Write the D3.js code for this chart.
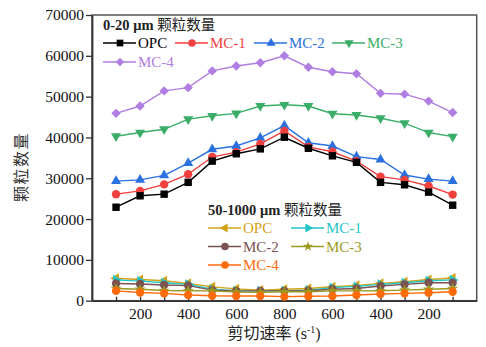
<!DOCTYPE html>
<html>
<head>
<meta charset="utf-8">
<script src="https://cdn.jsdelivr.net/npm/d3@7"></script>
<style>
  body { margin: 0; background: #fff; }
  text { font-family: "Liberation Serif", "Noto Sans CJK SC", serif; }
</style>
</head>
<body>
<div id="vis-container"></div>
<script>
// shear rate goes up to 800 and back down
const shearRate = [100,200,300,400,500,600,700,800,700,600,500,400,300,200,100];

// 0-20 um particle counts
const opcFine = [22900,25700,26100,29000,34200,36000,37200,40050,37350,35500,33900,29000,28400,26600,23400];
const mc1Fine = [26100,26900,28500,31000,35200,36400,38400,41600,37700,36500,34200,30400,29600,28100,26000];
const mc2Fine = [29300,29600,30700,33700,37100,37900,39900,42900,38700,37900,35300,34600,30800,29800,29300];
const mc3Fine = [40300,41200,42000,44500,45300,45900,47700,48000,47700,45800,45500,44700,43500,41200,40200];
const mc4Fine = [45900,47700,51400,52200,56300,57500,58300,60000,57200,56100,55600,50800,50600,48900,46100];

// 50-1000 um particle counts
const opcCoarse = [5500,5200,4900,4250,3400,2900,2600,2800,3000,3400,3750,4250,4650,5200,5550];
const mc1Coarse = [5100,4800,4400,4000,2800,2450,2400,2400,2600,3200,3500,4000,4400,4900,5100];
const mc2Coarse = [4200,4100,3850,3700,2600,2400,2400,2400,2450,2800,3000,3600,4000,4400,4400];
const mc3Coarse = [3000,2800,2500,2450,2400,2100,2050,2200,2200,2400,2400,2450,2600,2800,3000];
const mc4Coarse = [2400,2000,1800,1400,1200,1150,1150,1000,1100,1150,1400,1650,1800,1950,2200];

const yTicks = [0,10000,20000,30000,40000,50000,60000,70000];

const fineSeries = [
  {name:"OPC",  values:opcFine, color:"#000000", shape:"square"},
  {name:"MC-1", values:mc1Fine, color:"#f0413f", shape:"circle"},
  {name:"MC-2", values:mc2Fine, color:"#2a70de", shape:"up"},
  {name:"MC-3", values:mc3Fine, color:"#3aae68", shape:"down"},
  {name:"MC-4", values:mc4Fine, color:"#b07de2", shape:"diamond"}
];
const coarseSeries = [
  {name:"OPC",  values:opcCoarse, color:"#d4a315", shape:"left"},
  {name:"MC-1", values:mc1Coarse, color:"#22c6c9", shape:"right"},
  {name:"MC-2", values:mc2Coarse, color:"#7a5252", shape:"circle"},
  {name:"MC-3", values:mc3Coarse, color:"#9c9a1e", shape:"star"},
  {name:"MC-4", values:mc4Coarse, color:"#ff6a0a", shape:"circle"}
];

let width = 486, height = 347;
let plot = {left:92, right:476.7, top:15, bottom:300.7};

let svg = d3.select("#vis-container")
  .append("svg")
  .attr("width", width)
  .attr("height", height);

//scales
let x = d3.scaleLinear()
  .domain([-1, shearRate.length])
  .range([plot.left, plot.right]);

let y = d3.scaleLinear()
  .domain([0, 70000])
  .range([plot.bottom, plot.top]);

//frame
svg.append("rect")
  .attr("x", plot.left).attr("y", plot.top)
  .attr("width", plot.right - plot.left)
  .attr("height", plot.bottom - plot.top)
  .attr("fill", "none")
  .attr("stroke", "#555")
  .attr("stroke-width", 1.5);

//y axis
let yAxis = d3.axisLeft(y)
  .tickValues(yTicks)
  .tickFormat(d3.format("d"))
  .tickSizeInner(6)
  .tickSizeOuter(0)
  .tickPadding(2);

let yAxisGroup = svg.append("g")
  .attr("transform", `translate(${plot.left},0)`)
  .call(yAxis);
yAxisGroup.selectAll("text").attr("font-size", "15.5px").attr("fill", "#111");

//x axis, ticks inward
let xAxis = d3.axisBottom(x)
  .tickValues(d3.range(shearRate.length))
  .tickFormat(i => shearRate[i] % 200 === 0 ? shearRate[i] : "")
  .tickSizeInner(-4)
  .tickSizeOuter(0)
  .tickPadding(7);

let xAxisGroup = svg.append("g")
  .attr("transform", `translate(0,${plot.bottom})`)
  .call(xAxis);
xAxisGroup.selectAll("text").attr("font-size", "15.5px").attr("fill", "#111");

[yAxisGroup, xAxisGroup].forEach(g => {
  g.select(".domain").attr("stroke", "#333").attr("stroke-width", 1.8);
  g.selectAll(".tick line").attr("stroke", "#333").attr("stroke-width", 1.3);
});

//axis labels
svg.append("text")
  .attr("transform", "translate(27,167) rotate(-90)")
  .attr("text-anchor", "middle")
  .attr("font-size", "16px")
  .attr("letter-spacing", "1.5px")
  .attr("fill", "#333")
  .text("颗粒数量");

let xLabel = svg.append("text")
  .attr("x", 274)
  .attr("y", 339)
  .attr("text-anchor", "middle")
  .attr("font-size", "16px")
  .attr("fill", "#222");
xLabel.append("tspan").text("剪切速率 (s");
xLabel.append("tspan").attr("dy", -6).attr("font-size", "10px").text("-1");
xLabel.append("tspan").attr("dy", 6).text(")");

//marker shapes
function marker(shape, size) {
  if (shape === "square") return {d: d3.symbol(d3.symbolSquare, size)(), rot: 0};
  if (shape === "circle") return {d: d3.symbol(d3.symbolCircle, size)(), rot: 0};
  if (shape === "diamond") return {d: d3.symbol(d3.symbolSquare, size * 0.8)(), rot: 45};
  if (shape === "star") return {d: d3.symbol(d3.symbolStar, size * 0.7)(), rot: 0};
  let rot = {up:0, right:90, down:180, left:270}[shape];
  return {d: d3.symbol(d3.symbolTriangle, size * 0.8)(), rot: rot};
}

let line = d3.line()
  .x((d, i) => x(i))
  .y(d => y(d));

function drawSeries(series, size) {
  series.forEach(s => {
    let g = svg.append("g");
    g.append("path")
      .attr("d", line(s.values))
      .attr("fill", "none")
      .attr("stroke", s.color)
      .attr("stroke-width", 1.4);
    let m = marker(s.shape, size);
    g.selectAll("path.pt")
      .data(s.values)
      .enter()
      .append("path")
      .attr("class", "pt")
      .attr("d", m.d)
      .attr("transform", (d, i) => `translate(${x(i)},${y(d)}) rotate(${m.rot})`)
      .attr("fill", s.color);
  });
}

drawSeries(coarseSeries, 55);
drawSeries(fineSeries.slice().reverse(), 55);

//legends
function legend(title, sub, series, x0, y0, cols, rowH) {
  let g = svg.append("g");
  let t = g.append("text")
    .attr("x", x0).attr("y", y0)
    .attr("font-size", "14.5px")
    .attr("fill", "#222");
  t.append("tspan").attr("font-weight", "bold").text(title);
  t.append("tspan").text(" " + sub);
  series.forEach((s, k) => {
    let cx = cols[k % cols.length];
    let cy = y0 + 13 + rowH * Math.floor(k / cols.length);
    g.append("line")
      .attr("x1", cx).attr("x2", cx + 33)
      .attr("y1", cy).attr("y2", cy)
      .attr("stroke", s.color).attr("stroke-width", 1.4);
    let m = marker(s.shape, 45);
    g.append("path")
      .attr("d", m.d)
      .attr("transform", `translate(${cx + 17},${cy}) rotate(${m.rot})`)
      .attr("fill", s.color);
    g.append("text")
      .attr("x", cx + 35).attr("y", cy + 5)
      .attr("font-size", "15px")
      .attr("fill", s.color)
      .text(s.name);
  });
}

legend("0-20 μm", "颗粒数量", fineSeries, 103, 30, [103, 175, 254, 332], 19);
legend("50-1000 μm", "颗粒数量", coarseSeries, 208, 215, [208, 291], 18.5);
</script>
</body>
</html>
